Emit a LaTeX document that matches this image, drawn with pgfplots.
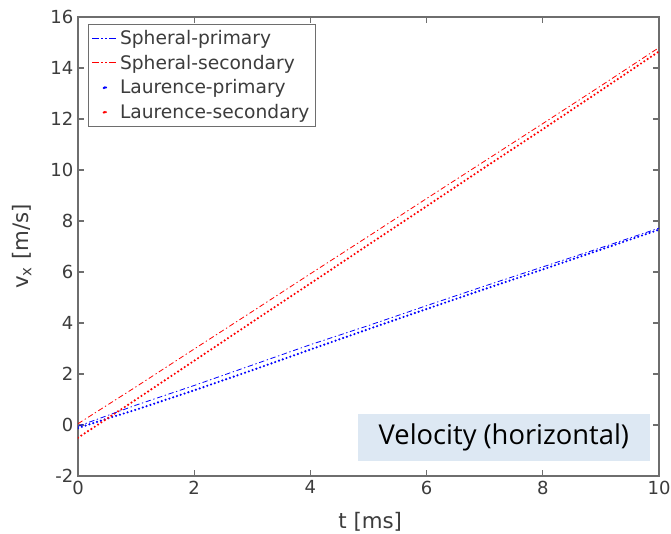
\documentclass[border=0pt]{standalone}
\usepackage{fontspec}
\setmainfont{DejaVu Sans}
\newfontfamily\boxfont{Open Sans}
\usepackage{pgfplots}
\pgfplotsset{compat=1.18}
\definecolor{axgray}{RGB}{110,110,110}
\definecolor{txtgray}{RGB}{60,60,60}
\definecolor{boxblue}{RGB}{221,232,243}
\begin{document}
\begin{tikzpicture}
\begin{axis}[
  at={(0,0)}, anchor=south west,
  scale only axis, width=435.75pt, height=344.25pt,
  xmin=0, xmax=10, ymin=-2, ymax=16,
  xtick={0,2,...,10}, ytick={-2,0,...,16},
  /pgf/number format/assume math mode=true,
  tick align=inside, major tick length=4.5pt,
  axis line style={axgray, line width=0.8pt},
  tick style={axgray, line width=0.8pt},
  ticklabel style={font=\fontsize{13.5}{15}\selectfont, text=txtgray},
  xlabel={t [ms]}, ylabel={v$_\mathrm{x}$ [m/s]},
  label style={font=\fontsize{16}{18}\selectfont, text=txtgray},
  xlabel style={at={(axis description cs:0.503,-0.100)}, anchor=center},
  ylabel style={at={(axis description cs:-0.097,0.5)}, anchor=center},
  legend style={at={(axis description cs:0.017,0.985)}, anchor=north west,
    draw=axgray, line width=0.6pt, font=\fontsize{14}{16}\selectfont, text=txtgray,
    row sep=2.3pt, inner sep=2.5pt},
  legend cell align=left,
]
\addplot[blue, line width=0.6pt, dash pattern=on 4pt off 2pt on 1pt off 2pt,
  legend image code/.code={\draw[draw=blue, line width=0.8pt, dash pattern=on 5pt off 2pt on 1pt off 2pt on 1pt off 2pt] (0cm,0) -- (0.65cm,0);}]
  coordinates {(0,-0.05) (1,0.78) (2,1.55) (3,2.35) (4,3.15) (5,3.9) (6,4.68) (7,5.45) (8,6.2) (9,6.95) (10,7.72)};
\addlegendentry{Spheral-primary}
\addplot[red, line width=0.6pt, dash pattern=on 4pt off 2pt on 1pt off 2pt,
  legend image code/.code={\draw[draw=red, line width=0.8pt, dash pattern=on 5pt off 2pt on 1pt off 2pt on 1pt off 2pt] (0cm,0) -- (0.65cm,0);}]
  coordinates {(0,0.05) (1,1.5) (2,2.98) (3,4.45) (4,5.93) (5,7.4) (6,8.88) (7,10.35) (8,11.82) (9,13.3) (10,14.8)};
\addlegendentry{Spheral-secondary}
\addplot[blue, line width=1.8pt, line cap=round, dash pattern=on 0pt off 3pt,
  legend image code/.code={\fill[blue] (0.33cm,0) circle (0.9pt);}]
  coordinates {(0,-0.12) (0.5,0.25) (1,0.6) (2,1.36) (3,2.15) (4,2.96) (5,3.76) (6,4.55) (7,5.33) (8,6.1) (9,6.88) (10,7.66)};
\addlegendentry{Laurence-primary}
\addplot[red, line width=1.8pt, line cap=round, dash pattern=on 0pt off 3pt,
  legend image code/.code={\fill[red] (0.33cm,0) circle (0.9pt);}]
  coordinates {(0,-0.5) (1,1.0) (2,2.52) (3,4.04) (4,5.55) (5,7.07) (6,8.58) (7,10.1) (8,11.6) (9,13.12) (10,14.65)};
\addlegendentry{Laurence-secondary}
\node[fill=boxblue, minimum width=219pt, minimum height=35pt, inner sep=0pt,
  font=\boxfont\fontsize{20.5}{23}\selectfont, text=black] at (axis cs:7.33,-0.49) {Velocity (horizontal)};
\end{axis}
\pgfresetboundingbox
\useasboundingbox (-58.5pt,-43.5pt) rectangle (444.75pt,357pt);
\end{tikzpicture}
\end{document}
